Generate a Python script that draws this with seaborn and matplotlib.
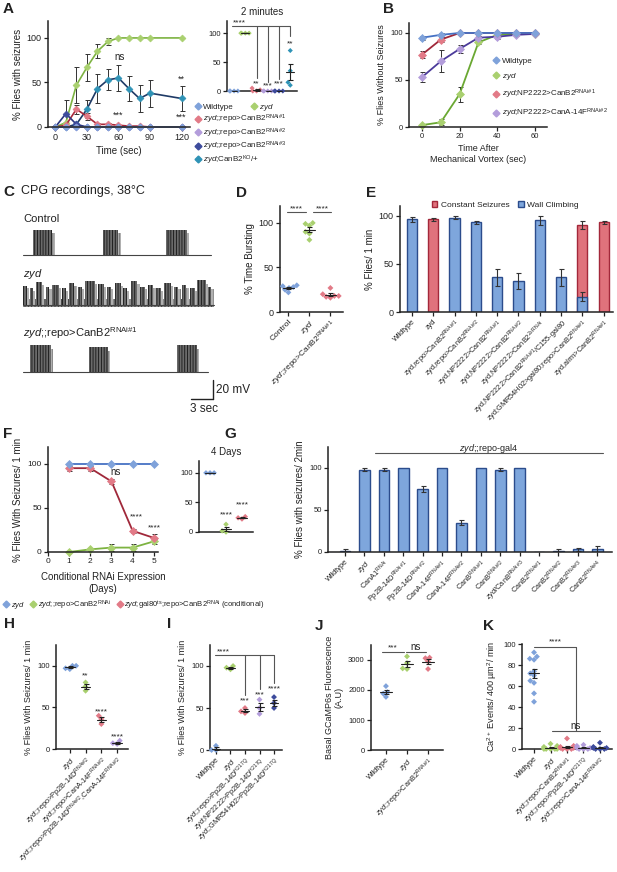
#!/usr/bin/env python
# Multi-panel calcineurin / seizure figure rebuilt with seaborn + matplotlib

import numpy as np
import pandas as pd
import seaborn as sns
from matplotlib import pyplot as plt
from matplotlib.lines import Line2D
from matplotlib.patches import Patch

# ---------------- data ----------------
# A: % flies with seizures over time
a_time = [0, 10, 20, 30, 40, 50, 60, 70, 80, 90, 120]
a_wt = [0, 0, 0, 0, 0, 0, 0, 0, 0, 0, 0]
a_zyd = [0, 5, 47, 67, 85, 96, 100, 100, 100, 100, 100]
a_zyd_err = [0, 0, 20, 15, 8, 4, 0, 0, 0, 0, 0]
a_r1 = [0, 2, 20, 12, 3, 3, 2, 1, 1, 0, 0]
a_r1_err = [0, 0, 5, 4, 1, 1, 0, 0, 0, 0, 0]
a_r2 = [0, 0, 0, 0, 0, 0, 0, 0, 0, 0, 0]
a_r3 = [0, 15, 3, 0, 0, 0, 0, 0, 0, 0, 0]
a_r3_err = [0, 15, 0, 0, 0, 0, 0, 0, 0, 0, 0]
a_ko = [0, 0, 3, 20, 43, 53, 55, 43, 32, 38, 32]
a_ko_err = [0, 0, 0, 10, 16, 12, 15, 14, 15, 15, 14]
# A inset: 2 minutes
a2_wt = [0, 0, 0, 0]
a2_zyd = [100, 100, 100, 100]
a2_r1 = [0, 0, 2, 5]
a2_r2 = [0, 0, 0, 0]
a2_r3 = [0, 0, 0, 0]
a2_ko = [70, 35, 15, 10]

# B: % flies without seizures
b_time = [0, 10, 20, 30, 40, 50, 60]
b_wt = [95, 98, 100, 100, 100, 100, 100]
b_wt_err = [2, 2, 0, 0, 0, 0, 0]
b_zyd = [2, 5, 35, 90, 98, 99, 99]
b_zyd_err = [1, 3, 8, 2, 1, 1, 1]
b_r1 = [77, 93, 100, 100, 100, 100, 100]
b_r1_err = [4, 3, 0, 0, 0, 0, 0]
b_cana = [53, 70, 83, 95, 96, 98, 99]
b_cana_err = [5, 12, 4, 2, 2, 1, 1]

# C: CPG bursts (start s, end s, height mV)
c_ctrl = [(1.4, 4.0, 27), (10.9, 13.0, 27), (19.5, 22.4, 27)]
c_rnai = [(1.0, 3.8, 28), (9.0, 11.6, 26), (21.0, 23.7, 28)]
c_zyd = [(0.0, 0.5, 20), (0.9, 1.4, 17), (1.8, 2.6, 24), (3.1, 3.6, 19), (4.0, 4.9, 21),
         (5.3, 5.8, 17), (6.3, 7.0, 23), (7.5, 8.0, 19), (8.4, 9.8, 25), (10.2, 11.0, 22),
         (11.4, 12.0, 19), (12.5, 13.3, 23), (13.7, 14.2, 17), (14.7, 15.6, 25), (16.0, 16.6, 19),
         (17.1, 17.8, 21), (18.2, 18.8, 17), (19.3, 20.2, 23), (20.6, 21.2, 19), (21.7, 22.3, 21),
         (22.8, 23.4, 17), (23.8, 24.9, 26), (25.2, 25.7, 19)]

# D: % time bursting
d_ctrl = [30, 29, 28, 27, 25, 22]
d_zyd = [100, 99, 97, 90, 88, 81]
d_rnai = [27, 20, 18, 17, 16, 18]

# E: behaviour bars
e_climb = [96, np.nan, 98, 93, 36, 32, 95, 36, 16, np.nan]
e_climb_err = [2.5, 0, 1.5, 1.5, 9, 8, 5, 9, 5, 0]
e_seize = [np.nan, 96, np.nan, np.nan, np.nan, np.nan, np.nan, np.nan, 90, 93]
e_seize_err = [0, 1.5, 0, 0, 0, 0, 0, 0, 4, 1.5]

# F: conditional RNAi
f_days = [1, 2, 3, 4, 5]
f_zyd = [100, 100, 100, 100, 100]
f_rnai = [0, 3, 5, 5, 12]
f_rnai_err = [0, 1, 4, 4, 3]
f_cond = [95, 95, 80, 24, 16]
f_cond_err = [3, 3, 3, 2, 4]
f4_zyd = [100, 100, 100]
f4_rnai = [0, 2, 13]
f4_cond = [22, 24, 26]

# G: screen
g_vals = [1, 98, 98, 100, 75, 100, 35, 100, 98, 100, 0, 1, 3, 3]
g_err = [2, 2, 2, 0, 3, 0, 3, 0, 2, 0, 0, 2, 2, 4]

# H
h_zyd = [100, 97, 96, 100]
h_pp = [80, 75, 70]
h_cana = [40, 36, 30]
h_combo = [10, 7, 6]
# I
i_wt = [5, 0, 0]
i_zyd = [100, 98, 96]
i_repo = [50, 46, 44]
i_np = [60, 50, 43]
i_gmr = [63, 56, 50]
# J
j_wt = [2130, 1930, 1880, 1770]
j_zyd = [3120, 2900, 2720, 2700]
j_rnai = [3080, 3060, 2950, 2700]
# K
k_wt = [92, 88, 86, 85, 74, 72, 70, 65, 63, 53, 45]
k_zyd = [5, 3, 2, 1, 1, 0, 0, 0, 0, 0]
k_canb2 = [10, 3, 2, 1, 1, 0, 0, 0]
k_pp = [4, 3, 1, 1, 0, 0, 0]
k_cana = [6, 2, 1, 1, 0, 0, 0]

# ---------------- labels ----------------
Z = r'$\mathit{zyd}$'


def sup(s):
    return r'$^{\mathrm{' + s.replace('#', r'\#') + '}}$'


e_labels = ['Wildtype', 'zyd',
            'zyd,repo>CanB2' + sup('RNAi#1'),
            'zyd,repo>CanB2' + sup('RNAi#2'),
            'zyd,NP2222>CanB2' + sup('RNAi#1'),
            'zyd,NP2222>CanB2' + sup('RNAi#2'),
            'zyd,NP2222>CanB2' + sup('2xRNAi'),
            'zyd,NP2222>CanB2' + sup('RNAi#1') + '/C155-gal80',
            'zyd;GMR54H02>gal80;repo>CanB2' + sup('RNAi#1'),
            'zyd,alrm>CanB2' + sup('RNAi#1')]
g_labels = ['Wildtype', Z, 'CanA1' + sup('RNAi'),
            'Pp2B-14D' + sup('RNAi#1'), 'Pp2B-14D' + sup('RNAi#2'),
            'CanA-14F' + sup('RNAi#1'), 'CanA-14F' + sup('RNAi#2'),
            'CanB' + sup('RNAi#1'), 'CanB' + sup('RNAi#2'),
            Z + '/CanB' + sup('RNAi#3'),
            'CanB2' + sup('RNAi#1'), 'CanB2' + sup('RNAi#2'),
            'CanB2' + sup('RNAi#3'), 'CanB2' + sup('RNAi#4')]

# ---------------- style ----------------
sns.set_style('ticks')
plt.rcParams['font.family'] = ['Liberation Sans', 'DejaVu Sans']
plt.rcParams['mathtext.fontset'] = 'custom'
plt.rcParams['mathtext.rm'] = 'Liberation Sans'
plt.rcParams['mathtext.it'] = 'Liberation Sans:italic'
plt.rcParams['mathtext.bf'] = 'Liberation Sans:bold'
plt.rcParams['hatch.linewidth'] = 0.6
INK = '#222222'
plt.rcParams['text.color'] = INK
plt.rcParams['axes.labelcolor'] = INK

C_WT = '#7fa2da'
C_ZYD = '#a9d06f'
C_R1 = '#e27a87'
C_R2 = '#b39ddb'
C_R3 = '#3d4b9c'
C_KO = '#2f93b6'
BAR_B, EDGE_B = '#7ea6dc', '#2b4c8c'
BAR_R, EDGE_R = '#e0727c', '#a3283a'

W, H = 617, 872
fig = plt.figure(figsize=(W / 100, H / 100), dpi=100)


def box(l, t, r, b):
    return fig.add_axes([l / W, 1 - b / H, (r - l) / W, (b - t) / H])


def ftext(x, y, s, **kw):
    fig.text(x / W, 1 - y / H, s, **kw)


def style(ax, fs=6):
    sns.despine(ax=ax)
    ax.tick_params(labelsize=fs, length=3, width=0.9, pad=1.5, colors=INK)
    for s in ['left', 'bottom']:
        ax.spines[s].set_linewidth(1.1)
        ax.spines[s].set_color(INK)


def errbars(ax, x, y, e, lw=0.7):
    for xi, yi, ei in zip(x, y, e):
        if ei > 0:
            ax.errorbar(xi, yi, yerr=ei, fmt='none', ecolor='#333333', elinewidth=lw,
                        capsize=1.8, capthick=lw, zorder=1.5)


def line(ax, x, y, lc, mc, ms=3.8, lw=1.2):
    sns.lineplot(x=x, y=y, ax=ax, color=lc, marker='D', markersize=ms, linewidth=lw,
                 markerfacecolor=mc, markeredgecolor=mc, markeredgewidth=0.5)


def dots(ax, groups, colors, size=3.0, half=0.28):
    names = [str(i) for i in range(len(groups))]
    df = pd.DataFrame({'g': [n for n, vals in zip(names, groups) for v in vals],
                       'v': [v for vals in groups for v in vals]})
    sns.swarmplot(data=df, x='g', y='v', hue='g', order=names, hue_order=names,
                  palette=colors, marker='D', size=size, linewidth=0, ax=ax, legend=False)
    for i, vals in enumerate(groups):
        m = np.mean(vals)
        se = np.std(vals, ddof=1) / np.sqrt(len(vals))
        ax.plot([i - half, i + half], [m, m], color=INK, lw=0.8, zorder=4)
        ax.errorbar(i, m, yerr=se, fmt='none', ecolor=INK, elinewidth=0.8,
                    capsize=1.8, capthick=0.8, zorder=4)
    ax.set_xlabel('')
    ax.set_ylabel('')
    for c in ax.collections:
        c.set_clip_on(False)


def rot_labels(ax, labels, fs=5.5):
    ax.set_xticks(range(len(labels)))
    ax.set_xticklabels(labels, rotation=45, ha='right', rotation_mode='anchor', fontsize=fs)


def stars(ax, x, y, s, fs=6.5):
    ax.text(x, y, s, ha='center', va='center', fontsize=fs, color=INK, clip_on=False)


def seg(ax, xs, ys):
    ax.plot(xs, ys, color='#555555', lw=0.8, clip_on=False)


def unclip(ax):
    for ln in ax.lines:
        ln.set_clip_on(False)


def mk(c):
    return Line2D([], [], marker='D', color=c, linestyle='', markersize=3.5)


# ================= A =================
ax = box(48, 21, 190, 127)
for y, e, lc, mc in [(a_ko, a_ko_err, '#1f3a66', C_KO), (a_zyd, a_zyd_err, '#7db341', C_ZYD),
                     (a_r1, a_r1_err, '#a8283a', C_R1), (a_r3, a_r3_err, '#2a3680', C_R3),
                     (a_r2, None, '#9b84cc', C_R2), (a_wt, None, '#6b8fd0', C_WT)]:
    line(ax, a_time, y, lc, mc, ms=3.5)
    if e is not None:
        errbars(ax, a_time, y, e)
unclip(ax)
ax.set_xlim(-7, 128)
ax.set_ylim(0, 119)
ax.set_xticks([0, 30, 60, 90, 120])
ax.set_yticks([0, 50, 100])
ax.set_xlabel('Time (sec)', fontsize=7, labelpad=3)
ax.set_ylabel('% Flies with seizures', fontsize=7, labelpad=3)
style(ax, 6.5)
stars(ax, 61, 79, 'ns', 7)
stars(ax, 120, 54, '**')
stars(ax, 60, 13, '***')
stars(ax, 120, 11, '***')
ftext(3, 2, 'A', fontsize=11, fontweight='bold', va='top')

# A inset
ax = box(227, 21, 297, 91)
dots(ax, [a2_wt, a2_zyd, a2_r1, a2_r2, a2_r3, a2_ko], [C_WT, C_ZYD, C_R1, C_R2, C_R3, C_KO],
     size=2.6, half=0.35)
ax.set_xlim(-0.63, 5.6)
ax.set_ylim(0, 121)
ax.set_xticks([])
ax.set_yticks([0, 50, 100])
style(ax, 5.5)
ax.set_title('2 minutes', fontsize=7, pad=4)
seg(ax, [-0.2, 5.0], [113, 113])
stars(ax, 0.5, 117, '****', 6)
for x, yb, ys, s in [(2, 22, 13, '**'), (3, 16, 8, '***'), (4, 20, 12, '***'), (5, 95, 82, '**')]:
    seg(ax, [x, x], [113, yb])
    stars(ax, x, ys, s, 6)

fig.legend(handles=[mk(C_WT), mk(C_ZYD)], labels=['Wildtype', Z],
           loc='upper left', bbox_to_anchor=(196 / W, 1 - 102 / H), ncol=2,
           frameon=False, fontsize=5.8, handlelength=0.6, handletextpad=0.3,
           columnspacing=2.2, borderaxespad=0, borderpad=0)
fig.legend(handles=[mk(C_R1), mk(C_R2), mk(C_R3), mk(C_KO)],
           labels=[Z + ';;repo>CanB2' + sup('RNAi#1'), Z + ';;repo>CanB2' + sup('RNAi#2'),
                   Z + ';;repo>CanB2' + sup('RNAi#3'), Z + ';CanB2' + sup('KO') + '/+'],
           loc='upper left', bbox_to_anchor=(196 / W, 1 - 113 / H), frameon=False,
           fontsize=5.8, handlelength=0.6, handletextpad=0.3, labelspacing=0.02,
           borderaxespad=0, borderpad=0)

# ================= B =================
ax = box(409, 23, 547, 127)
for y, e, lc, mc in [(b_zyd, b_zyd_err, '#6aa832', C_ZYD), (b_cana, b_cana_err, '#4b3a9a', C_R2),
                     (b_r1, b_r1_err, '#a0283a', C_R1), (b_wt, b_wt_err, '#4672c4', C_WT)]:
    line(ax, b_time, y, lc, mc, ms=3.8, lw=1.3)
    errbars(ax, b_time, y, e)
unclip(ax)
ax.set_xlim(-6.9, 66.4)
ax.set_ylim(0, 110.6)
ax.set_xticks([0, 20, 40, 60])
ax.set_yticks([0, 50, 100])
ax.set_xlabel('Time After\nMechanical Vortex (sec)', fontsize=6.5, labelpad=3)
ax.set_ylabel('% Flies Without Seizures', fontsize=6.5, labelpad=3)
style(ax, 5.5)
ax.legend(handles=[mk(C_WT), mk(C_ZYD), mk(C_R1), mk(C_R2)],
          labels=['Wildtype', Z, Z + ';NP2222>CanB2' + sup('RNAi#1'),
                  Z + ';NP2222>CanA-14F' + sup('RNAi#2')],
          loc='upper left', bbox_to_anchor=(494 / W, 1 - 57 / H), bbox_transform=fig.transFigure,
          frameon=False, fontsize=5.8, handlelength=0.6, handletextpad=0.4, labelspacing=0.75,
          borderaxespad=0, borderpad=0)
ftext(383, 2, 'B', fontsize=11, fontweight='bold', va='top')

# ================= C =================
ax = box(23, 222, 240, 412)
ax.set_xlim(0, 29.6)
ax.set_ylim(0, 200)
ax.axis('off')


def trace(base, end, bursts, noise=False):
    if noise:
        ax.fill_between([0, end], base - 2, base + 6, facecolor='#8a8a8a', edgecolor='#333333',
                        hatch='|||||', lw=0)
    ax.plot([0, end], [base, base], color='#444444', lw=0.8)
    for s, e, h in bursts:
        ax.fill_between([s, e], base, base + h, facecolor='#6a6a6a', edgecolor='#151515',
                        hatch='||||||', lw=0)
        ax.fill_between([e, e + 0.3], base, base + h * 0.85, facecolor='#b0b0b0',
                        edgecolor='#777777', hatch='|||', lw=0)


trace(165, 25.6, c_ctrl)
trace(113, 26.0, c_zyd, noise=True)
trace(42, 25.2, c_rnai)
ax.plot([22.9, 25.9], [13.7, 13.7], color=INK, lw=1)
ax.plot([25.9, 25.9], [13.7, 33.7], color=INK, lw=1)
ftext(3, 185, 'C', fontsize=11, fontweight='bold', va='top')
ftext(21, 185, 'CPG recordings, 38°C', fontsize=9, va='top')
ftext(23, 219, 'Control', fontsize=8, va='center')
ftext(23, 274, Z, fontsize=8, va='center')
ftext(23, 333, Z + ';;repo>CanB2' + sup('RNAi#1'), fontsize=8, va='center')
ftext(216, 390, '20 mV', fontsize=8.5, va='center')
ftext(190, 409, '3 sec', fontsize=8.5, va='center')

# ================= D =================
ax = box(280, 206, 343, 312)
dots(ax, [d_ctrl, d_zyd, d_rnai], [C_WT, C_ZYD, C_R1], size=3.0)
ax.set_xlim(-0.4, 2.6)
ax.set_ylim(0, 119)
ax.set_yticks([0, 50, 100])
ax.set_ylabel('% Time Bursting', fontsize=7, labelpad=3)
style(ax, 6.5)
rot_labels(ax, ['Control', Z, Z + ';;repo>CanB2' + sup('RNAi#1')], 6)
seg(ax, [-0.05, 0.85], [112, 112])
seg(ax, [1.15, 2.05], [112, 112])
stars(ax, 0.4, 116, '****', 6)
stars(ax, 1.6, 116, '****', 6)
ftext(236, 186, 'D', fontsize=11, fontweight='bold', va='top')

# ================= E =================
ax = box(400, 206, 613, 312)
idx = list(range(len(e_labels)))
names = [str(i) for i in idx]
df_r = pd.DataFrame({'g': [n for n, v in zip(names, e_seize) if not np.isnan(v)],
                     'v': [v for v in e_seize if not np.isnan(v)]})
df_b = pd.DataFrame({'g': [n for n, v in zip(names, e_climb) if not np.isnan(v)],
                     'v': [v for v in e_climb if not np.isnan(v)]})
sns.barplot(data=df_r, x='g', y='v', order=names, color=BAR_R, edgecolor=EDGE_R, linewidth=1,
            width=0.48, errorbar=None, saturation=1, ax=ax)
sns.barplot(data=df_b, x='g', y='v', order=names, color=BAR_B, edgecolor=EDGE_B, linewidth=1,
            width=0.48, errorbar=None, saturation=1, ax=ax)
errbars(ax, idx, e_seize, e_seize_err, lw=0.8)
errbars(ax, idx, e_climb, e_climb_err, lw=0.8)
ax.set_xlim(-0.56, 9.44)
ax.set_ylim(0, 110)
ax.set_yticks([0, 50, 100])
ax.set_xlabel('')
ax.set_ylabel('% Flies/ 1 min', fontsize=7, labelpad=3)
style(ax, 6.5)
rot_labels(ax, e_labels, 5.3)
fig.legend(handles=[Patch(facecolor=BAR_R, edgecolor=EDGE_R), Patch(facecolor=BAR_B, edgecolor=EDGE_B)],
           labels=['Constant Seizures', 'Wall Climbing'], loc='center',
           bbox_to_anchor=(505 / W, 1 - 205 / H), ncol=2, frameon=False, fontsize=6,
           handlelength=0.7, handleheight=0.7, handletextpad=0.4, columnspacing=1.0,
           borderaxespad=0, borderpad=0)
ftext(366, 186, 'E', fontsize=11, fontweight='bold', va='top')

# ================= F =================
ax = box(48, 447, 158, 552)
line(ax, f_days, f_rnai, '#7db341', C_ZYD, lw=1.3)
errbars(ax, f_days, f_rnai, f_rnai_err)
line(ax, f_days, f_cond, '#a0283a', C_R1, lw=1.3)
errbars(ax, f_days, f_cond, f_cond_err)
line(ax, f_days, f_zyd, '#4672c4', C_WT, lw=1.3)
unclip(ax)
ax.set_xlim(0, 5.2)
ax.set_ylim(0, 119)
ax.set_xticks([0, 1, 2, 3, 4, 5])
ax.set_yticks([0, 50, 100])
ax.set_xlabel('Conditional RNAi Expression\n(Days)', fontsize=7, labelpad=5)
ax.set_ylabel('% Flies With Seizures/ 1 min', fontsize=7, labelpad=3)
style(ax, 6)
stars(ax, 3.2, 91, 'ns', 7)
stars(ax, 4.2, 40, '****', 6)
stars(ax, 5.05, 27, '****', 6)
ftext(3, 427, 'F', fontsize=11, fontweight='bold', va='top')

ax = box(199, 461, 253, 532)
dots(ax, [f4_zyd, f4_rnai, f4_cond], [C_WT, C_ZYD, C_R1], size=2.8, half=0.3)
ax.set_xlim(-0.69, 2.69)
ax.set_ylim(0, 120)
ax.set_xticks([])
ax.set_yticks([0, 50, 100])
style(ax, 5.5)
ax.set_title('4 Days', fontsize=7, pad=4)
stars(ax, 1, 29, '****', 6)
stars(ax, 2, 46, '****', 6)

fig.legend(handles=[mk(C_WT), mk(C_ZYD), mk(C_R1)],
           labels=[Z, Z + ';;repo>CanB2' + sup('RNAi'),
                   Z + ';gal80' + sup('ts') + ';repo>CanB2' + sup('RNAi') + ' (conditional)'],
           loc='center left', bbox_to_anchor=(4 / W, 1 - 605 / H), ncol=3, frameon=False,
           fontsize=5.5, handlelength=0.6, handletextpad=0.3, columnspacing=0.8,
           borderaxespad=0, borderpad=0)

# ================= G =================
ax = box(328, 447, 612, 552)
gnames = [str(i) for i in range(len(g_vals))]
sns.barplot(x=gnames, y=g_vals, order=gnames, color=BAR_B, edgecolor=EDGE_B, linewidth=1,
            width=0.55, errorbar=None, saturation=1, ax=ax)
errbars(ax, range(len(g_vals)), g_vals, g_err, lw=0.8)
ax.set_xlim(-0.88, 13.76)
ax.set_ylim(0, 125)
ax.set_yticks([0, 50, 100])
ax.set_ylabel('% Flies with seizures/ 2min', fontsize=7, labelpad=3)
style(ax, 5.5)
rot_labels(ax, g_labels, 5.3)
seg(ax, [1.55, 13.3], [118, 118])
ax.text(7.4, 123, Z + ';;repo-gal4', ha='center', va='center', fontsize=6.5, clip_on=False)
ftext(224, 427, 'G', fontsize=11, fontweight='bold', va='top')

# ================= H =================
ax = box(56, 645, 128, 749)
dots(ax, [h_zyd, h_pp, h_cana, h_combo], [C_WT, C_ZYD, C_R1, C_R2], size=3.0, half=0.3)
ax.set_xlim(-0.875, 3.69)
ax.set_ylim(0, 125)
ax.set_yticks([0, 50, 100])
ax.set_ylabel('% Flies With Seizures/ 1 min', fontsize=6.5, labelpad=3)
style(ax, 5.5)
rot_labels(ax, [Z, Z + ';;repo>Pp2B-14D' + sup('RNAi#2'), Z + ';;repo>CanA-14F' + sup('RNAi#2'),
                Z + ';;repo>Pp2B-14D' + sup('RNAi#2') + ',CanA-14F' + sup('RNAi#2')], 5.3)
stars(ax, 1, 88, '**', 6)
stars(ax, 2, 45, '****', 6)
stars(ax, 3, 15, '****', 6)
ftext(4, 617, 'H', fontsize=11, fontweight='bold', va='top')

# ================= I =================
ax = box(210, 645, 282, 750)
dots(ax, [i_wt, i_zyd, i_repo, i_np, i_gmr], [C_WT, C_ZYD, C_R1, C_R2, C_R3], size=3.0, half=0.3)
ax.set_xlim(-0.41, 4.55)
ax.set_ylim(0, 125)
ax.set_yticks([0, 50, 100])
ax.set_ylabel('% Flies With Seizures/ 1 min', fontsize=6.5, labelpad=3)
style(ax, 5.5)
rot_labels(ax, ['Wildtype', Z, Z + ';;repo>Pp2B-14D' + sup('H217Q'),
                Z + ';NP2222>Pp2B-14D' + sup('H217Q'), Z + ';;GMR54H02>Pp2B-14D' + sup('H217Q')], 5.3)
seg(ax, [-0.1, 4.0], [113, 113])
stars(ax, 0.5, 117, '****', 6)
for x, yb, ys, s in [(2, 66, 58, '***'), (3, 73, 66, '***'), (4, 80, 73, '****')]:
    seg(ax, [x, x], [113, yb])
    stars(ax, x, ys, s, 6)
ftext(167, 617, 'I', fontsize=11, fontweight='bold', va='top')

# ================= J =================
ax = box(371, 645, 443, 750)
dots(ax, [j_wt, j_zyd, j_rnai], [C_WT, C_ZYD, C_R1], size=3.0, half=0.3)
ax.set_xlim(-0.71, 2.71)
ax.set_ylim(0, 3500)
ax.set_yticks([0, 1000, 2000, 3000])
ax.set_ylabel('Basal GCaMP6s Fluorescence\n(A.U)', fontsize=6.5, labelpad=3)
style(ax, 5.5)
rot_labels(ax, ['Wildtype', Z, Z + ';;repo>CanB2' + sup('RNAi#1')], 5.3)
seg(ax, [-0.2, 0.85], [3280, 3280])
seg(ax, [0.95, 1.9], [3280, 3280])
stars(ax, 0.33, 3390, '***', 6)
stars(ax, 1.42, 3420, 'ns', 7)
ftext(315, 619, 'J', fontsize=11, fontweight='bold', va='top')

# ================= K =================
ax = box(522, 644, 612, 749)
dots(ax, [k_wt, k_zyd, k_canb2, k_pp, k_cana], [C_WT, C_ZYD, C_R1, C_R2, C_R3], size=3.0, half=0.32)
ax.set_xlim(-0.73, 4.73)
ax.set_ylim(0, 100)
ax.set_yticks([0, 20, 40, 60, 80, 100])
ax.set_ylabel(r'Ca$^{2+}$ Events/ 400 µm$^{2}$/ min', fontsize=6.5, labelpad=3)
style(ax, 5.5)
rot_labels(ax, ['Wildtype', Z, Z + ';;repo>CanB2' + sup('RNAi#1'),
                Z + ';;repo>Pp2B-14D' + sup('H217Q'), Z + ';;repo>CanA-14F' + sup('RNAi#2')], 5.3)
seg(ax, [0, 2.55], [97, 97])
seg(ax, [2.55, 2.55], [97, 17])
seg(ax, [1.1, 4.0], [17, 17])
stars(ax, 1.3, 102, '****', 6)
stars(ax, 2.55, 22, 'ns', 7)
ftext(483, 619, 'K', fontsize=11, fontweight='bold', va='top')

fig.savefig('out.png', dpi=100)
